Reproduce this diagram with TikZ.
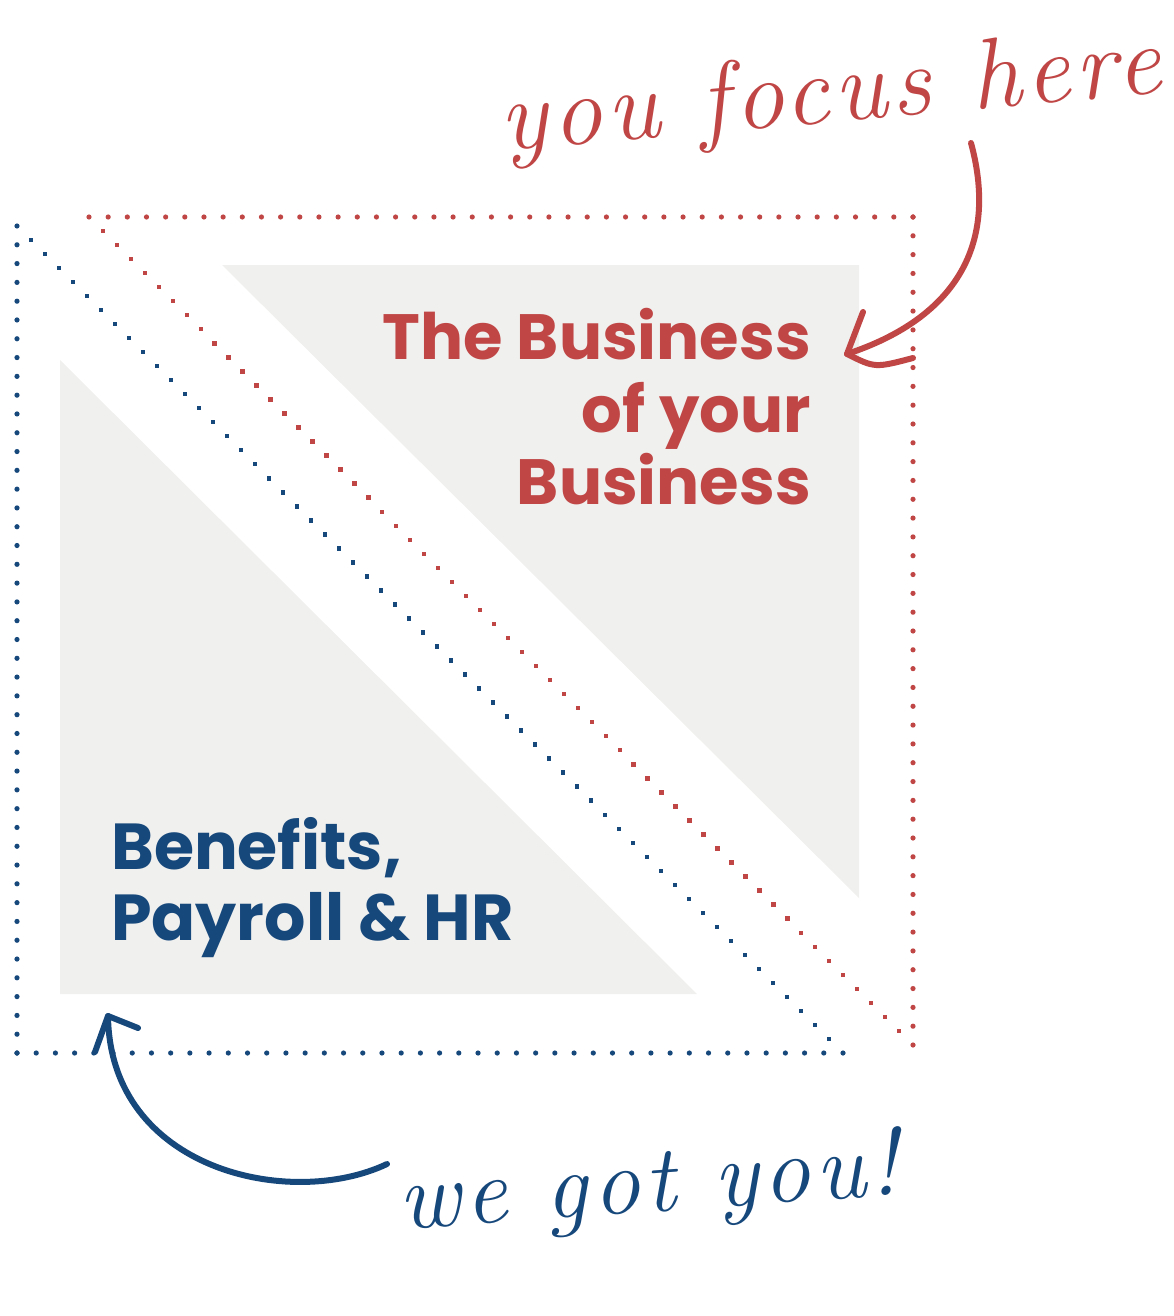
\documentclass[tikz,border=0pt]{standalone}
\usepackage{fontspec}
\setmainfont{Poppins}
\newfontfamily\handfont{Latin Modern Roman}[LetterSpace=5]
\usetikzlibrary{calc}
\definecolor{brandred}{RGB}{192,70,70}
\definecolor{brandblue}{RGB}{23,72,124}
\definecolor{panelgray}{RGB}{240,240,238}
\newcommand\dotrow[5]{%
  \foreach \k in {0,...,#3} \fill[#4] ($(#1)!{\k/#3}!(#2)$) circle (#5);}
\newcommand\squarerow[5]{%
  \foreach \k in {1,...,\numexpr#3-1\relax} \fill[#4] ($(#1)!{\k/#3}!(#2)$) +(-#5,-#5) rectangle +(#5,#5);}
\begin{document}
\begin{tikzpicture}[x=1pt,y=-1pt,
  panel/.style={fill=panelgray},
  redhead/.style={text=brandred,inner sep=0pt,anchor=base east,font=\fontsize{64}{72}\selectfont\bfseries},
  bluehead/.style={text=brandblue,inner sep=0pt,anchor=base west,font=\fontsize{65}{72}\selectfont\bfseries},
  handtext/.style={inner sep=0pt,anchor=base,font=\handfont\itshape\fontsize{100}{100}\selectfont},
  arrowline/.style={line width=6pt,line cap=round,line join=round}]
\useasboundingbox (0,0) rectangle (1173,1316);
% panels
\fill[panel] (222,265) -- (859,265) -- (859,898) -- cycle;
\fill[panel] (60,360) -- (60,994) -- (697,994) -- cycle;
% red dotted triangle
\coordinate (RA) at (89,217);
\coordinate (RB) at (913,217);
\coordinate (RC) at (913,1045);
\dotrow{RA}{RB}{43}{brandred}{2.6pt}
\dotrow{RB}{RC}{44}{brandred}{2.6pt}
\squarerow{RA}{RC}{59}{brandred}{2.2}
% blue dotted triangle
\coordinate (BA) at (17,226);
\coordinate (BB) at (17,1053);
\coordinate (BC) at (843,1053);
\dotrow{BA}{BB}{44}{brandblue}{2.6pt}
\dotrow{BB}{BC}{43}{brandblue}{2.6pt}
\squarerow{BA}{BC}{59}{brandblue}{2.2}
% headings
\node[redhead] (r1) at (811,359) {The Business};
\node[redhead] (r2) at (811,432) {of your};
\node[redhead] (r3) at (811,504) {Business};
\node[bluehead] (b1) at (111,869) {Benefits,};
\node[bluehead] (b2) at (111,940) {Payroll \& HR};
% handwritten notes
\node[handtext,text=brandred,rotate=5] (focus) at (833,122) {you focus here};
\node[handtext,text=brandblue,rotate=4,font=\handfont\itshape\fontsize{95}{95}\selectfont] (gotyou) at (650,1212) {we got you!};
% arrows
\coordinate (redstart) at (971,143);
\coordinate (redtip) at (847,354);
\coordinate (redarmA) at (863,312);
\coordinate (redarmB) at (913,358);
\draw[arrowline,brandred] (redstart) .. controls (1000,250) and (950,320) .. (redtip);
\draw[arrowline,brandred] (redarmA) -- (redtip) .. controls (875,368) .. (redarmB);
\coordinate (bluestart) at (387,1164);
\coordinate (bluetip) at (108,1016);
\coordinate (bluearmA) at (95,1052);
\coordinate (bluearmB) at (138,1028);
\draw[arrowline,brandblue] (bluestart) .. controls (290,1210) and (110,1170) .. (bluetip);
\draw[arrowline,brandblue] (bluearmA) -- (bluetip) -- (bluearmB);
\end{tikzpicture}
\end{document}
